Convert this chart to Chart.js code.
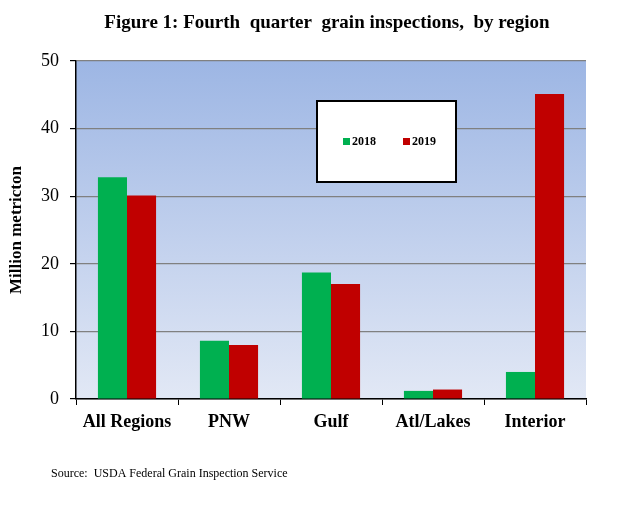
<!DOCTYPE html>
<html lang="en">
<head>
<meta charset="UTF-8">
<title>Fourth quarter grain inspections, by region</title>
<script src="https://cdn.jsdelivr.net/npm/chart.js"></script>
<style>
    html, body { margin: 0; padding: 0; background: #ffffff; }
    .grafico { width: 631px; height: 505px; }
</style>
</head>
<body>
<div class="grafico">
    <canvas id="graos"></canvas>
</div>
<script>

    // dados (milhoes de toneladas)
    const regioes = ['All Regions', 'PNW', 'Gulf', 'Atl/Lakes', 'Interior'];
    const valores2018 = [32.8, 8.6, 18.7, 1.2, 4.0];
    const valores2019 = [30.1, 8.0, 17.0, 1.4, 45.1];
    const ticksY = [0, 10, 20, 30, 40, 50];

    const serif = "'Liberation Serif', 'Times New Roman', serif";

    // fundo em degrade da area do grafico
    const fundoDegrade = {
        id: 'fundoDegrade',
        beforeDraw(chart) {
            const { ctx, chartArea: a } = chart;
            const g = ctx.createLinearGradient(0, a.top, 0, a.bottom);
            g.addColorStop(0, '#9db6e4');
            g.addColorStop(1, '#e2e8f5');
            ctx.save();
            ctx.fillStyle = g;
            ctx.fillRect(a.left, a.top, a.right - a.left, a.bottom - a.top);
            ctx.restore();
        }
    };

    // titulo, legenda em caixa dentro do grafico e fonte
    const textosExtras = {
        id: 'textosExtras',
        afterDatasetsDraw(chart) {
            const ctx = chart.ctx;
            ctx.save();
            ctx.fillStyle = '#000000';
            ctx.textBaseline = 'middle';
            ctx.textAlign = 'center';
            ctx.font = 'bold 19px ' + serif;
            ctx.fillText('Figure 1: Fourth  quarter  grain inspections,  by region', 327, 23);

            ctx.fillStyle = '#ffffff';
            ctx.fillRect(317, 101, 139, 81);
            ctx.strokeStyle = '#000000';
            ctx.lineWidth = 2;
            ctx.strokeRect(317, 101, 139, 81);

            const xs = [343, 403];
            chart.data.datasets.forEach(function (ds, i) {
                ctx.fillStyle = ds.backgroundColor;
                ctx.fillRect(xs[i], 138, 7, 7);
                ctx.fillStyle = '#000000';
                ctx.font = 'bold 12px ' + serif;
                ctx.textAlign = 'left';
                ctx.fillText(ds.label, xs[i] + 9, 142);
            });

            ctx.font = '12px ' + serif;
            ctx.textAlign = 'left';
            ctx.fillText('Source:  USDA Federal Grain Inspection Service', 51, 474);
            ctx.restore();
        }
    };

    const ctx = document.getElementById('graos').getContext('2d');
    const grafico = new Chart(ctx, {
        type: 'bar',
        data: {
            labels: regioes,
            datasets: [
                { label: '2018', data: valores2018, backgroundColor: '#00b050' },
                { label: '2019', data: valores2019, backgroundColor: '#c00000' }
            ]
        },
        options: {
            responsive: true,
            maintainAspectRatio: false,
            animation: false,
            layout: { padding: { left: 0, right: 45, top: 61, bottom: 50 } },
            datasets: {
                bar: { categoryPercentage: 0.57, barPercentage: 1.0 }
            },
            plugins: {
                legend: { display: false },
                tooltip: { enabled: false },
                title: { display: false }
            },
            scales: {
                x: {
                    grid: {
                        offset: true,
                        drawOnChartArea: false,
                        tickLength: 6,
                        tickColor: '#000000'
                    },
                    border: { color: '#000000', width: 1.5 },
                    ticks: {
                        color: '#000000',
                        padding: 7,
                        font: { family: serif, size: 18, weight: 'bold' }
                    },
                    afterFit: function (scale) { scale.height = 56; }
                },
                y: {
                    min: 0,
                    max: 50,
                    afterBuildTicks: function (scale) {
                        scale.ticks = ticksY.map(v => ({ value: v }));
                    },
                    grid: {
                        color: '#808080',
                        lineWidth: 1.2,
                        tickLength: 6,
                        tickColor: '#000000'
                    },
                    border: { color: '#000000', width: 1.5 },
                    ticks: {
                        color: '#000000',
                        padding: 11,
                        font: { family: serif, size: 18 }
                    },
                    title: {
                        display: true,
                        text: 'Million metricton',
                        color: '#000000',
                        font: { family: serif, size: 17, weight: 'bold' },
                        padding: { top: 6, bottom: 0 }
                    },
                    afterFit: function (scale) { scale.width = 76; }
                }
            }
        },
        plugins: [fundoDegrade, textosExtras]
    });

</script>
</body>
</html>
